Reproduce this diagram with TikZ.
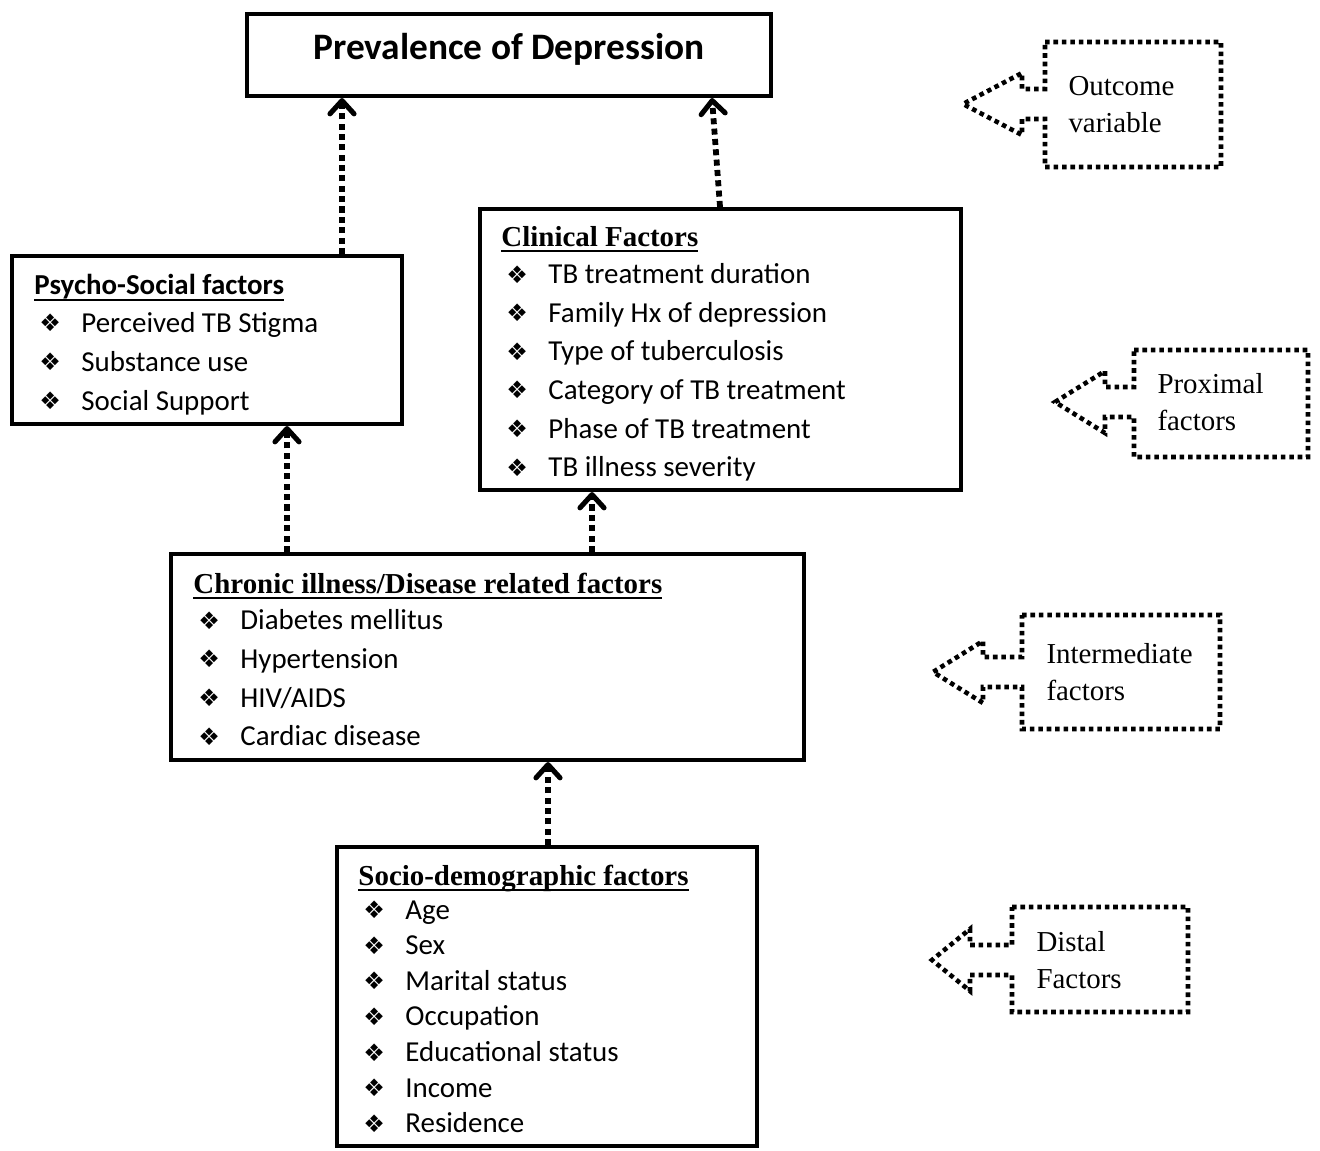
\documentclass[tikz,border=0pt]{standalone}
\usepackage{fontspec}
\setmainfont{Liberation Serif}
\newfontfamily\calibri{Carlito}
\newfontfamily\symfnt{DejaVu Sans}
\usetikzlibrary{arrows.meta, fit}
\newcommand{\bul}{\raisebox{0.2pt}{\symfnt\fontsize{10}{10}\selectfont ❖}}
\newcommand{\hdline}[2][1.5pt]{\setbox0\hbox{#2}\rlap{\vrule width \wd0 height -#1 depth \dimexpr#1+0.9pt\relax}\box0}

\begin{document}
\begin{tikzpicture}[x=0.415pt, y=-0.415pt,
  box/.style={draw, line width=1.7pt, inner sep=0pt},
  dotarr/.style={line width=2.4pt, dash pattern=on 2.5pt off 1.8pt,
    -{Straight Barb[length=5.5pt, width=10pt, line width=2.1pt, round]}},
  sidedot/.style={line width=1.9pt, dash pattern=on 1.9pt off 1.6pt},
  item/.style={anchor=base west, inner sep=0pt, font=\calibri\fontsize{12}{14}\selectfont},
  head/.style={anchor=base west, inner sep=0pt, font=\bfseries\fontsize{12}{14}\selectfont},
  sidetext/.style={anchor=base west, inner sep=0pt, font=\fontsize{12}{14}\selectfont}]
\useasboundingbox (0,0) rectangle (1320,1150);

% 1. boxes
\node[box, fit={(247,14) (771,96)}] (ttl) {};
\node[box, fit={(12,256) (402,424)}] (psy) {};
\node[box, fit={(480,209) (961,490)}] (clin) {};
\node[box, fit={(171,554) (804,760)}] (chr) {};
\node[box, fit={(337,847) (757,1146)}] (soc) {};

% 2. texts
\node[anchor=base, inner sep=0pt, font=\calibri\bfseries\fontsize{15.5}{18}\selectfont] (ttl-t) at (509,59) {Prevalence of Depression};

\node[head, font=\calibri\bfseries\fontsize{12}{14}\selectfont] (psy-h) at (34,294) {\hdline[2pt]{Psycho-Social factors}};
\foreach \t [count=\i] in {Perceived TB Stigma, Substance use, Social Support}
    {\node[item] (psy-\i) at (39, 293+39*\i) {\makebox[17.4pt][l]{\bul}\t};}

\node[head] (clin-h) at (501,246) {\hdline{Clinical Factors}};
\foreach \t [count=\i] in {TB treatment duration, Family Hx of depression, Type of tuberculosis,
    Category of TB treatment, Phase of TB treatment, TB illness severity}
    {\node[item] (clin-\i) at (506, 245+38.6*\i) {\makebox[17.4pt][l]{\bul}\t};}

\node[head] (chr-h) at (193,593) {\hdline{Chronic illness/Disease related factors}};
\foreach \t [count=\i] in {Diabetes mellitus, Hypertension, HIV/AIDS, Cardiac disease}
    {\node[item] (chr-\i) at (198, 591+38.7*\i) {\makebox[17.4pt][l]{\bul}\t};}

\node[head] (soc-h) at (358,885) {\hdline{Socio-demographic factors}};
\foreach \t [count=\i] in {Age, Sex, Marital status, Occupation, Educational status, Income, Residence}
    {\node[item] (soc-\i) at (363, 883.5+35.6*\i) {\makebox[17.4pt][l]{\bul}\t};}

% 3. arrows
\coordinate (x1) at (342,0);
\coordinate (x2) at (720,0);
\coordinate (x2t) at (712,0);
\coordinate (x3) at (287,0);
\coordinate (x4) at (592,0);
\coordinate (x5) at (548,0);
\draw[dotarr] (psy.north -| x1) -- (ttl.south -| x1);
\draw[dotarr] (clin.north -| x2) -- (ttl.south -| x2t);
\draw[dotarr] (chr.north -| x3) -- (psy.south -| x3);
\draw[dotarr] (chr.north -| x4) -- (clin.south -| x4);
\draw[dotarr] (soc.north -| x5) -- (chr.south -| x5);

% 4. side labels
\foreach \L/\N/\T/\c/\R/\tp/\bt/\tx/\la/\lb [count=\i] in
    {1045/1022/963/104/1221/42/167/1068/Outcome/variable,
     1134/1105/1055/402/1308/350/457/1157/Proximal/factors,
     1022/983/933/672/1220/615/729/1046/Intermediate/factors,
     1012/970/932/960/1188/907/1012/1036/Distal/Factors}
    {\draw[sidedot] (\L,\tp) -- (\R,\tp) -- (\R,\bt) -- (\L,\bt) -- (\L,\c+15) -- (\N,\c+15)
        -- (\N,\c+31) -- (\T,\c) -- (\N,\c-31) -- (\N,\c-15) -- (\L,\c-15) -- cycle;
     \node[sidetext] (side-\i a) at (\tx,\c-9) {\la};
     \node[sidetext] (side-\i b) at (\tx,\c+28) {\lb};
    }
\end{tikzpicture}
\end{document}
